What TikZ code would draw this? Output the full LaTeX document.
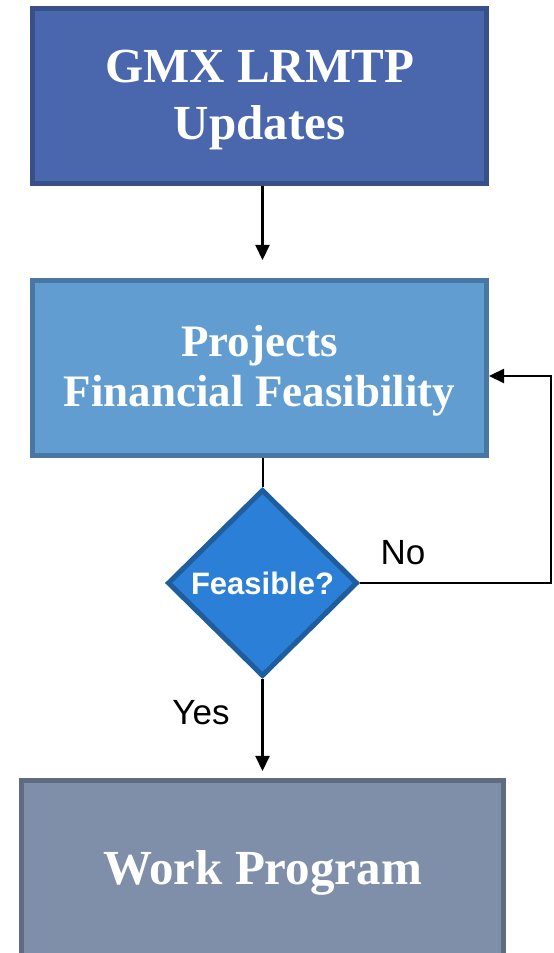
\documentclass[tikz,border=0pt]{standalone}
\usepackage{fontspec}
\setmainfont{Liberation Serif}
\newfontfamily\labelfont{Liberation Sans}
\usetikzlibrary{shapes.geometric,arrows.meta}

\definecolor{updfill}{HTML}{4A67AD}
\definecolor{upddraw}{HTML}{384F87}
\definecolor{finfill}{HTML}{629DD1}
\definecolor{findraw}{HTML}{4A77A1}
\definecolor{decfill}{HTML}{2B7FD6}
\definecolor{decdraw}{HTML}{1E5D9E}
\definecolor{wpfill}{HTML}{7F8FA9}
\definecolor{wpdraw}{HTML}{5F6B80}

\begin{document}
\begin{tikzpicture}[
        x=1pt, y=1pt,
        box/.style={rectangle, draw, line width=5pt, text=white, align=center,
            inner sep=0pt, minimum height=175pt},
        decision/.style={diamond, draw=decdraw, fill=decfill, line width=5pt,
            text=white, inner sep=0pt, minimum width=190pt, minimum height=187pt,
            font=\labelfont\bfseries\fontsize{31}{36}\selectfont},
        flow/.style={line width=2.2pt, -{Triangle[length=15pt,width=14pt]}},
        answer/.style={anchor=base, font=\labelfont\fontsize{35}{40}\selectfont}
    ]
    \useasboundingbox (0,0) rectangle (554,953);

    \node[box, fill=updfill, draw=upddraw, minimum width=454pt, text height=99pt, text depth=11pt,
        font=\bfseries\fontsize{49}{57}\selectfont] (updates) at (259.5,857) {GMX LRMTP\\Updates};
    \node[box, fill=finfill, draw=findraw, minimum width=454pt, text height=88pt, text depth=10pt,
        font=\bfseries\fontsize{45}{50}\selectfont] (feasibility) at (259.5,585) {Projects\\Financial Feasibility};
    \node[decision] (feasible) at (262.5,370) {Feasible?};
    \node[box, fill=wpfill, draw=wpdraw, minimum width=482pt, text height=33pt, text depth=0pt,
        font=\bfseries\fontsize{49}{57}\selectfont] (program) at (262.5,85) {Work Program};

    \coordinate (loop) at (551,577);

    % connectors
    \draw[flow, shorten >=18pt] (updates.south -| feasible) -- (feasibility.north -| feasible);
    \draw[line width=2pt] (feasibility.south -| feasible) -- (feasible.north);
    \draw[flow, shorten >=7pt] (feasible.south) -- (program.north -| feasible);
    \draw[flow] (feasible.east) -| (loop) -- (loop -| feasibility.east);

    \node[answer] (no) at (403,388) {No};
    \node[answer] (yes) at (201,228) {Yes};
\end{tikzpicture}
\end{document}
